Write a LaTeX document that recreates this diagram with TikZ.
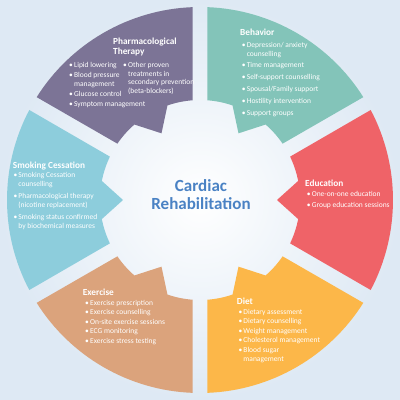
\documentclass[tikz,border=0pt]{standalone}
\usepackage{fontspec}
\setmainfont{Carlito}
\usepackage{tikz}

\definecolor{pharmcol}{RGB}{124,116,150}
\definecolor{behavcol}{RGB}{131,196,185}
\definecolor{educol}{RGB}{239,99,104}
\definecolor{dietcol}{RGB}{252,183,73}
\definecolor{exercol}{RGB}{219,163,124}
\definecolor{smokecol}{RGB}{141,205,220}
\definecolor{titleblue}{RGB}{74,130,196}
\definecolor{bgblue}{RGB}{222,233,244}

\begin{document}
\begin{tikzpicture}[x=1pt,y=1pt,
  ttl/.style={font=\fontsize{17}{20}\selectfont\bfseries, text=titleblue, anchor=base, inner sep=0},
  hd/.style={font=\fontsize{9.3}{10.5}\selectfont\bfseries, text=white, anchor=base west, inner sep=0},
  lst/.style={font=\fontsize{7.5}{8.6}\selectfont, text=white, anchor=base west, inner sep=0}]
\useasboundingbox (0,0) rectangle (400,400);
\shade[inner color=white, outer color=bgblue] (0,0) rectangle (400,400);

% the six parts of the ring
\fill[pharmcol,shift={(200,200)},rotate=120] (25.7:100) -- (27.8:193) arc[start angle=27.8,end angle=-27.8,radius=193] -- (-25.7:100) arc[start angle=-25.7,end angle=-11,radius=100] -- (0:77) -- (11:100) arc[start angle=11,end angle=25.7,radius=100] -- cycle;
\fill[behavcol,shift={(200,200)},rotate=60] (25.7:100) -- (27.8:193) arc[start angle=27.8,end angle=-27.8,radius=193] -- (-25.7:100) arc[start angle=-25.7,end angle=-11,radius=100] -- (0:77) -- (11:100) arc[start angle=11,end angle=25.7,radius=100] -- cycle;
\fill[educol,shift={(200,200)},rotate=0] (25.7:100) -- (27.8:193) arc[start angle=27.8,end angle=-27.8,radius=193] -- (-25.7:100) arc[start angle=-25.7,end angle=-11,radius=100] -- (0:77) -- (11:100) arc[start angle=11,end angle=25.7,radius=100] -- cycle;
\fill[dietcol,shift={(200,200)},rotate=-60] (25.7:100) -- (27.8:193) arc[start angle=27.8,end angle=-27.8,radius=193] -- (-25.7:100) arc[start angle=-25.7,end angle=-11,radius=100] -- (0:77) -- (11:100) arc[start angle=11,end angle=25.7,radius=100] -- cycle;
\fill[exercol,shift={(200,200)},rotate=-120] (25.7:100) -- (27.8:193) arc[start angle=27.8,end angle=-27.8,radius=193] -- (-25.7:100) arc[start angle=-25.7,end angle=-11,radius=100] -- (0:77) -- (11:100) arc[start angle=11,end angle=25.7,radius=100] -- cycle;
\fill[smokecol,shift={(200,200)},rotate=180] (25.7:100) -- (27.8:193) arc[start angle=27.8,end angle=-27.8,radius=193] -- (-25.7:100) arc[start angle=-25.7,end angle=-11,radius=100] -- (0:77) -- (11:100) arc[start angle=11,end angle=25.7,radius=100] -- cycle;

% centre
\node[ttl] (ttlA) at (201,208.3) {Cardiac};
\node[ttl] (ttlB) at (201,190) {Rehabilitation};

% pharmacological therapy
\node[hd] (pharmH) at (113,355.5) {\begin{tabular}[t]{@{}l@{}}Pharmacological\\Therapy\end{tabular}};
\node[lst] (pharmL) at (69,332.5) {\begin{tabular}[t]{@{}l@{\hspace{1.2pt}}l@{}}
• & Lipid lowering\\[1.5pt]
• & Blood pressure\\ & management\\[1.5pt]
• & Glucose control\\[1.5pt]
• & Symptom management\end{tabular}};
\node[lst] (pharmR) at (123,332.5) {\begin{tabular}[t]{@{}l@{\hspace{1.2pt}}l@{}}
• & Other proven\\ & treatments in\\ & secondary prevention\\ & (beta-blockers)\end{tabular}};

% behavior
\node[hd] (behavH) at (240,364) {Behavior};
\node[lst] (behavL) at (241.7,352.5) {\begin{tabular}[t]{@{}l@{\hspace{1.2pt}}l@{}}
• & Depression/ anxiety\\ & counselling\\[3.2pt]
• & Time management\\[3.2pt]
• & Self-support counselling\\[3.2pt]
• & Spousal/Family support\\[3.2pt]
• & Hostility intervention\\[3.2pt]
• & Support groups\end{tabular}};

% education
\node[hd] (eduH) at (305,213.2) {Education};
\node[lst] (eduL) at (306.7,203.2) {\begin{tabular}[t]{@{}l@{\hspace{1.2pt}}l@{}}
• & One-on-one education\\[2pt]
• & Group education sessions\end{tabular}};

% diet
\node[hd] (dietH) at (236.7,95.8) {Diet};
\node[lst] (dietL) at (238.3,85.8) {\begin{tabular}[t]{@{}l@{\hspace{1.2pt}}l@{}}
• & Dietary assessment\\[1pt]
• & Dietary counselling\\[1pt]
• & Weight management\\[1pt]
• & Cholesterol management\\[1pt]
• & Blood sugar\\ & management\end{tabular}};

% exercise
\node[hd] (exerH) at (82.7,104.8) {Exercise};
\node[lst] (exerL) at (85,94.8) {\begin{tabular}[t]{@{}l@{\hspace{1.2pt}}l@{}}
• & Exercise prescription\\[1pt]
• & Exercise counselling\\[1pt]
• & On-site exercise sessions\\[1pt]
• & ECG monitoring\\[1pt]
• & Exercise stress testing\end{tabular}};

% smoking cessation
\node[hd] (smokeH) at (12.7,231.5) {Smoking Cessation};
\node[lst] (smokeL) at (13.3,222.5) {\begin{tabular}[t]{@{}l@{\hspace{1.2pt}}l@{}}
• & Smoking Cessation\\ & counselling\\[4pt]
• & Pharmacological therapy\\ & (nicotine replacement)\\[4pt]
• & Smoking status confirmed\\ & by biochemical measures\end{tabular}};
\end{tikzpicture}
\end{document}
